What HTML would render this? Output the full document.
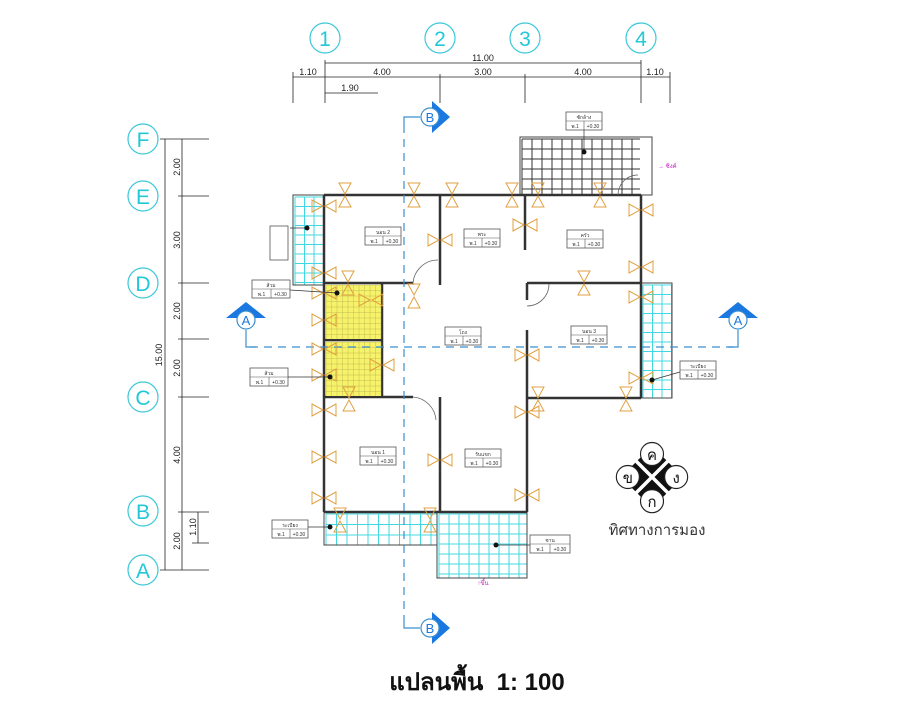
<!DOCTYPE html>
<html><head><meta charset="utf-8"><style>
html,body{margin:0;padding:0;background:#fff}
svg{display:block}
text{font-family:"Liberation Sans",sans-serif}
</style></head><body>
<svg id="s" width="900" height="720" viewBox="0 0 900 720" xmlns="http://www.w3.org/2000/svg">
<g fill="none" stroke="#3cc8d8" stroke-width="1.2">
<circle cx="325" cy="38" r="15"/><circle cx="440" cy="38" r="15"/><circle cx="525" cy="38" r="15"/><circle cx="641" cy="38" r="15"/>
<circle cx="143" cy="139" r="15"/><circle cx="143" cy="196" r="15"/><circle cx="143" cy="283" r="15"/><circle cx="143" cy="397" r="15"/><circle cx="143" cy="511" r="15"/><circle cx="143" cy="570" r="15"/>
</g>
<g fill="#22c8d8" font-size="21" text-anchor="middle">
<text x="325" y="46">1</text><text x="440" y="46">2</text><text x="525" y="46">3</text><text x="641" y="46">4</text>
<text x="143" y="147">F</text><text x="143" y="204">E</text><text x="143" y="291">D</text><text x="143" y="405">C</text><text x="143" y="519">B</text><text x="143" y="578">A</text>
</g>
<g stroke="#222" stroke-width="0.8" fill="none">
<line x1="325" y1="63" x2="641" y2="63"/>
<line x1="293" y1="77" x2="670" y2="77"/>
<line x1="325" y1="93" x2="378" y2="93"/>
<line x1="293" y1="72" x2="293" y2="103"/><line x1="325" y1="60" x2="325" y2="103"/><line x1="440" y1="74" x2="440" y2="103"/><line x1="525" y1="74" x2="525" y2="103"/><line x1="641" y1="60" x2="641" y2="103"/><line x1="670" y1="72" x2="670" y2="103"/>
<line x1="165" y1="139" x2="165" y2="570"/><line x1="182" y1="139" x2="182" y2="570"/>
<line x1="160" y1="139" x2="209" y2="139"/><line x1="160" y1="570" x2="209" y2="570"/>
<line x1="178" y1="196" x2="209" y2="196"/><line x1="178" y1="283" x2="209" y2="283"/><line x1="178" y1="339" x2="209" y2="339"/><line x1="178" y1="397" x2="209" y2="397"/><line x1="178" y1="512" x2="209" y2="512"/>
<line x1="198" y1="512" x2="198" y2="543"/><line x1="192" y1="543" x2="209" y2="543"/>
</g>
<g fill="#222" font-size="9" text-anchor="middle">
<text x="483" y="61">11.00</text><text x="308" y="75">1.10</text><text x="382" y="75">4.00</text><text x="483" y="75">3.00</text><text x="583" y="75">4.00</text><text x="655" y="75">1.10</text><text x="350" y="91">1.90</text>
<text transform="translate(162,355) rotate(-90)">15.00</text>
<text transform="translate(180,167) rotate(-90)">2.00</text>
<text transform="translate(180,240) rotate(-90)">3.00</text>
<text transform="translate(180,311) rotate(-90)">2.00</text>
<text transform="translate(180,368) rotate(-90)">2.00</text>
<text transform="translate(180,455) rotate(-90)">4.00</text>
<text transform="translate(180,541) rotate(-90)">2.00</text>
<text transform="translate(196,527) rotate(-90)">1.10</text>
</g>
<g id="grids"></g>
<g fill="none" stroke="#444" stroke-width="1">
<rect x="520" y="137" width="132" height="58"/>
<rect x="293" y="195" width="31" height="90"/>
<rect x="641" y="283" width="31" height="115"/>
<rect x="324" y="512" width="113" height="33"/>
<rect x="437" y="512" width="90" height="66"/>
</g>
<g stroke="#333" stroke-width="2.5" fill="none">
<line x1="324" y1="195" x2="641" y2="195"/>
<line x1="324" y1="195" x2="324" y2="512"/>
<line x1="641" y1="195" x2="641" y2="398"/>
<line x1="324" y1="512" x2="527" y2="512"/>
<line x1="440" y1="195" x2="440" y2="285"/>
<line x1="525" y1="195" x2="525" y2="250"/>
<line x1="527" y1="283" x2="641" y2="283"/>
<line x1="527" y1="283" x2="527" y2="300"/><line x1="527" y1="330" x2="527" y2="512"/>
<line x1="324" y1="283" x2="413" y2="283"/>
<line x1="324" y1="397" x2="413" y2="397"/>
<line x1="440" y1="397" x2="440" y2="512"/>
<line x1="382" y1="283" x2="382" y2="397"/>
<line x1="324" y1="340" x2="382" y2="340"/>
<line x1="527" y1="398" x2="641" y2="398"/>
</g>
<g fill="#f6f26a" stroke="none"><rect x="326" y="285" width="55" height="54"/><rect x="326" y="342" width="55" height="54"/></g>
<g id="ygrid"></g>
<g fill="none" stroke="#666" stroke-width="0.8">
<path d="M413 285 A25 25 0 0 1 438 260"/><path d="M527 306 A22 22 0 0 0 549 284"/><path d="M413 397 A25 25 0 0 1 436 420"/><path d="M618 195 A20 20 0 0 1 638 175"/>
</g>
<g stroke="#3a8fd0" stroke-width="1.2" fill="none" stroke-dasharray="8,6">
<line x1="404" y1="125" x2="404" y2="620"/>
<line x1="250" y1="347" x2="735" y2="347"/>
</g>
<g stroke="#3a8fd0" stroke-width="1.2" fill="none">
<polyline points="404,125 404,117 420,117"/><polyline points="404,620 404,628 420,628"/>
<polyline points="246,330 246,347 256,347"/><polyline points="738,330 738,347 728,347"/>
</g>
<g fill="#1a78e0">
<polygon points="432,101 450,117 432,133"/><polygon points="432,612 450,628 432,644"/>
<polygon points="226,318 246,302 266,318"/><polygon points="718,318 738,302 758,318"/>
</g>
<g fill="#fff" stroke="#3a8fd0" stroke-width="1.2">
<circle cx="430" cy="117" r="9"/><circle cx="430" cy="628" r="9"/><circle cx="246" cy="320" r="9"/><circle cx="738" cy="320" r="9"/>
</g>
<g fill="#1a78e0" font-size="13" text-anchor="middle"><text x="430" y="122">B</text><text x="430" y="633">B</text><text x="246" y="325">A</text><text x="738" y="325">A</text></g>
<g id="tri" fill="none" stroke="#e0a040" stroke-width="1"></g>
<g id="tags"></g>
<g transform="translate(652,477) scale(1.15)">
<polygon points="0,-27 27,0 0,27 -27,0" fill="#111"/>
<line x1="-24" y1="-24" x2="24" y2="24" stroke="#fff" stroke-width="3"/><line x1="24" y1="-24" x2="-24" y2="24" stroke="#fff" stroke-width="3"/>
<g fill="#fff" stroke="#222" stroke-width="1"><circle cx="0" cy="-20" r="10"/><circle cx="-21" cy="0" r="10"/><circle cx="21" cy="0" r="10"/><circle cx="0" cy="21" r="10"/></g>
<g font-size="13" text-anchor="middle" fill="#111"><text x="0" y="-15">ค</text><text x="-21" y="5">ข</text><text x="21" y="5">ง</text><text x="0" y="26">ก</text></g>
</g>
<text x="657" y="535" font-size="15" text-anchor="middle" fill="#333">ทิศทางการมอง</text>
<text x="477" y="690" font-size="24" text-anchor="middle" fill="#111" font-weight="bold">แปลนพื้น&#160;&#160;1: 100</text>
</svg>
<script>
var NS="http://www.w3.org/2000/svg";
function el(p,t,a,txt){var e=document.createElementNS(NS,t);for(var k in a)e.setAttribute(k,a[k]);if(txt)e.textContent=txt;document.getElementById(p).appendChild(e);return e;}
function grid(x,y,w,h,s,c){for(var i=x;i<=x+w+0.1;i+=s)el('grids','line',{x1:i,y1:y,x2:i,y2:y+h,stroke:c,'stroke-width':1});for(var j=y;j<=y+h+0.1;j+=s)el('grids','line',{x1:x,y1:j,x2:x+w,y2:j,stroke:c,'stroke-width':1});}
grid(522,139,118,56,10,'#333');
grid(295,197,29,88,9.5,'#40d8e0');
grid(643,285,29,113,9.5,'#40d8e0');
grid(326,514,111,31,10.5,'#40d8e0');
grid(439,514,88,64,10,'#40d8e0');
function yg(x,y,w,h){for(var i=x;i<=x+w;i+=5.5)el('ygrid','line',{x1:i,y1:y,x2:i,y2:y+h,stroke:'#b8b050','stroke-width':0.4});for(var j=y;j<=y+h;j+=5.5)el('ygrid','line',{x1:x,y1:j,x2:x+w,y2:j,stroke:'#b8b050','stroke-width':0.4});}
yg(326,285,55,54);yg(326,342,55,54);
function v(x,y){el('tri','polygon',{points:(x-6)+','+(y-12)+' '+(x+6)+','+(y-12)+' '+x+','+(y-1)});el('tri','polygon',{points:(x-6)+','+(y+12)+' '+(x+6)+','+(y+12)+' '+x+','+(y+1)});}
function h(x,y){el('tri','polygon',{points:(x-12)+','+(y-6)+' '+(x-12)+','+(y+6)+' '+(x-1)+','+y});el('tri','polygon',{points:(x+12)+','+(y-6)+' '+(x+12)+','+(y+6)+' '+(x+1)+','+y});}
[345,414,452,512,538,600].forEach(function(x){v(x,195);});
[206,273,293,320,349,375,410,457,498].forEach(function(y){h(324,y);});
h(440,240);h(525,225);
[210,267,297,378].forEach(function(y){h(641,y);});
v(584,283);v(348,283);v(414,296);v(349,399);v(538,399);v(626,399);
h(527,355);h(527,412);h(527,495);h(440,460);h(371,300);h(382,365);
v(340,520);v(430,520);
function tag(x,y,w,t){el('tags','rect',{x:x,y:y,width:w,height:18,fill:'#fff',stroke:'#555','stroke-width':0.8});el('tags','line',{x1:x,y1:y+9,x2:x+w,y2:y+9,stroke:'#555','stroke-width':0.6});el('tags','line',{x1:x+w/2,y1:y+9,x2:x+w/2,y2:y+18,stroke:'#555','stroke-width':0.6});el('tags','text',{x:x+w/2,y:y+7,'font-size':5,'text-anchor':'middle',fill:'#333'},t);el('tags','text',{x:x+w/4,y:y+16,'font-size':5,'text-anchor':'middle',fill:'#333'},'พ.1');el('tags','text',{x:x+3*w/4,y:y+16,'font-size':5,'text-anchor':'middle',fill:'#333'},'+0.30');}
tag(365,227,36,'นอน 2');tag(464,229,36,'พระ');tag(567,230,36,'ครัว');tag(445,327,36,'โถง');tag(571,326,36,'นอน 3');tag(360,447,36,'นอน 1');tag(465,449,36,'รับแขก');
tag(566,112,36,'ซักล้าง');tag(530,535,40,'ชาน');tag(680,361,36,'ระเบียง');tag(272,520,36,'ระเบียง');tag(252,280,38,'ส้วม');tag(250,368,38,'ส้วม');
el('tags','rect',{x:270,y:226,width:18,height:34,fill:'#fff',stroke:'#555','stroke-width':0.8});
[[584,152,584,130],[496,545,530,545],[652,380,680,372],[330,527,308,527],[307,228,290,228],[337,293,290,290],[330,377,288,377]].forEach(function(p){el('tags','line',{x1:p[0],y1:p[1],x2:p[2],y2:p[3],stroke:'#333','stroke-width':0.7});el('tags','circle',{cx:p[0],cy:p[1],r:2.5,fill:'#111'});});
el('tags','text',{x:658,y:168,'font-size':6,fill:'#c020c0'},'→ ซิงค์');
el('tags','text',{x:483,y:585,'font-size':6,fill:'#c020c0','text-anchor':'middle'},'↑ขึ้น');
</script>
</body></html>
